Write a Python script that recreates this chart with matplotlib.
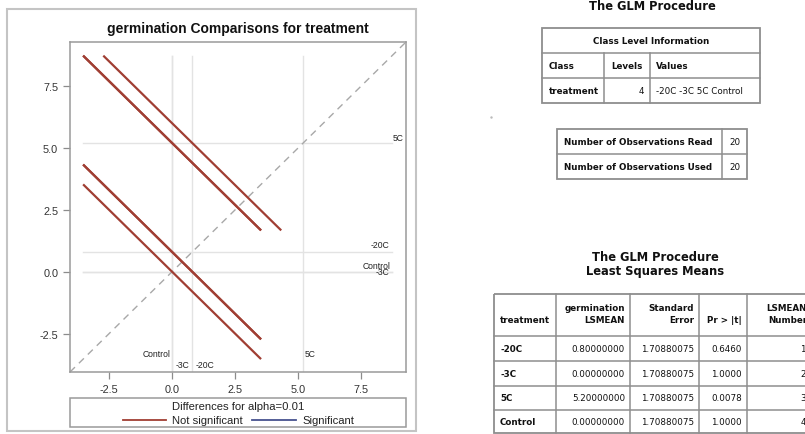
import numpy as np
import matplotlib.pyplot as plt
from matplotlib.patches import Rectangle

plt.rcParams['font.family'] = ['DejaVu Sans']

# PROC GLM output: LS means for germination by treatment
levels = ['-20C', '-3C', '5C', 'Control']
lsmeans = [0.80000000, 0.00000000, 5.20000000, 0.00000000]
stderr = [1.70880075, 1.70880075, 1.70880075, 1.70880075]
prob_t = [0.6460, 1.0000, 0.0078, 1.0000]
lsmean_number = [1, 2, 3, 4]
alpha = 0.01
t_crit = 2.921  # t(1 - alpha/2, 16 df)

n_read = 20
n_used = 20

NS_COLOR = '#a03e33'
SIG_COLOR = '#46528f'
GRID = '#8c8c8c'
W, H = 805, 435

fig = plt.figure(figsize=(W / 100, H / 100), dpi=100)

# overlay in pixel units for the frame, legend and the tables
ov = fig.add_axes([0, 0, 1, 1])
ov.set_xlim(0, W)
ov.set_ylim(H, 0)
ov.axis('off')


def fig_rect(x0, y0, x1, y1):
    return [x0 / W, 1 - y1 / H, (x1 - x0) / W, (y1 - y0) / H]


# ---------------- diffogram ----------------
ov.add_patch(Rectangle((7, 10), 409, 422, fill=False, ec='#c4c4c4', lw=1.5))
ov.text(238, 29, 'germination Comparisons for treatment', ha='center', va='center',
        fontsize=10, fontweight='bold', color='#111111', family='Liberation Sans')

ax = fig.add_axes(fig_rect(70, 43, 406, 373))
lo, hi = -4.05, 9.28
ax.set_xlim(lo, hi)
ax.set_ylim(lo, hi)

segs = []
n = len(levels)
for i in range(n):
    for j in range(i + 1, n):
        x = min(lsmeans[i], lsmeans[j])
        y = max(lsmeans[i], lsmeans[j])
        half = t_crit * np.hypot(stderr[i], stderr[j]) / 2
        sig = abs(lsmeans[i] - lsmeans[j]) > 2 * half
        segs.append((x - half, y + half, x + half, y - half, sig))
ext_lo = min(s[0] for s in segs)
ext_hi = max(s[1] for s in segs)

# reference lines at each LS mean
for m in lsmeans:
    ax.plot([m, m], [lo, ext_hi], color='#e3e3e3', lw=1, zorder=1)
    ax.plot([ext_lo, ext_hi], [m, m], color='#e3e3e3', lw=1, zorder=1)

ax.plot([lo, hi], [lo, hi], color='#a8a8a8', lw=1, ls=(0, (5, 4)), zorder=2)

for x0, y0, x1, y1, sig in segs:
    ax.plot([x0, x1], [y0, y1], color=SIG_COLOR if sig else NS_COLOR, lw=1.6,
            solid_capstyle='butt', zorder=3)

# level labels along the right side and the bottom
lab = dict(fontsize=6.2, color='#222222', family='Liberation Sans')
right_pos = {'5C': (9.2, 0.05), '-20C': (8.6, 0.1), 'Control': (8.65, 0.05), '-3C': (8.6, -0.18)}
for name, m in zip(levels, lsmeans):
    xr, dy = right_pos[name]
    ax.text(xr, m + dy, name, ha='right', va='bottom', **lab)
bottom_pos = {'Control': (-0.08, -3.32, 'right'), '-3C': (0.12, -3.76, 'left'),
              '-20C': (0.12, -3.76, 'left'), '5C': (0.06, -3.32, 'left')}
for name, m in zip(levels, lsmeans):
    dx, yb, ha = bottom_pos[name]
    ax.text(m + dx, yb, name, ha=ha, va='center', **lab)

ax.set_xticks([-2.5, 0, 2.5, 5, 7.5])
ax.set_yticks([-2.5, 0, 2.5, 5, 7.5])
ax.xaxis.set_major_formatter(plt.FormatStrFormatter('%.1f'))
ax.yaxis.set_major_formatter(plt.FormatStrFormatter('%.1f'))
ax.tick_params(colors=GRID, labelcolor='#333333', labelsize=7.8, length=5, width=0.9)
for lbl in ax.get_xticklabels() + ax.get_yticklabels():
    lbl.set_family('Liberation Sans')
for sp in ax.spines.values():
    sp.set_color('#9a9a9a')
    sp.set_linewidth(1.1)

# legend box
ov.add_patch(Rectangle((70, 399), 336, 29, fill=False, ec='#9a9a9a', lw=1.1))
leg = dict(fontsize=8.1, color='#222222', family='Liberation Sans', va='center')
ov.text(238, 407.5, 'Differences for alpha=%.2f' % alpha, ha='center', **leg)
ov.plot([123, 166], [421, 421], color=NS_COLOR, lw=1.3)
ov.text(172, 421, 'Not significant', ha='left', **leg)
ov.plot([252, 296], [421, 421], color=SIG_COLOR, lw=1.3)
ov.text(302, 421, 'Significant', ha='left', **leg)

# ---------------- tables ----------------
TB = '#8e8e8e'
cell_fs = 6.3


def box(x0, y0, x1, y1):
    ov.add_patch(Rectangle((x0, y0), x1 - x0, y1 - y0, fill=False, ec=TB, lw=1.3))


def hline(x0, x1, y):
    ov.plot([x0, x1], [y, y], color=TB, lw=1.1)


def vline(x, y0, y1):
    ov.plot([x, x], [y0, y1], color=TB, lw=1.1)


def cell(x, y, s, ha='left', bold=False):
    ov.text(x, y, s, ha=ha, va='center', fontsize=cell_fs, color='#111111',
            fontweight='bold' if bold else 'normal')


ov.text(652, 6, 'The GLM Procedure', ha='center', va='center', fontsize=8.3,
        fontweight='bold', color='#111111')

# class level information
box(542, 29, 760, 104)
hline(542, 760, 54)
hline(542, 760, 79)
vline(604, 54, 104)
vline(650, 54, 104)
cell(651, 41.5, 'Class Level Information', ha='center', bold=True)
cell(549, 66.5, 'Class', bold=True)
cell(611, 66.5, 'Levels', bold=True)
cell(656, 66.5, 'Values', bold=True)
cell(549, 91.5, 'treatment', bold=True)
cell(644, 91.5, str(len(levels)), ha='right')
cell(656, 91.5, ' '.join(levels))

ov.plot([491], [118], marker='.', ms=1.5, color='#bbbbbb')

# observation counts
box(557, 130, 747, 180)
hline(557, 747, 155)
vline(722, 130, 180)
cell(564, 142.5, 'Number of Observations Read', bold=True)
cell(564, 167.5, 'Number of Observations Used', bold=True)
cell(735, 142.5, str(n_read), ha='center')
cell(735, 167.5, str(n_used), ha='center')

ov.text(655, 265, 'The GLM Procedure\nLeast Squares Means', ha='center', va='center',
        fontsize=8.3, fontweight='bold', color='#111111', linespacing=1.1)

# LS means table
rows_y = [337, 362, 387, 411, 434]
cols_x = [494, 556, 630, 699, 747, 840]
box(cols_x[0], 295, cols_x[-1], rows_y[-1])
for y in rows_y[:-1]:
    hline(cols_x[0], cols_x[-1], y)
for x in cols_x[1:-1]:
    vline(x, 295, rows_y[-1])

hy1, hy2 = 309, 321
cell(500, hy2, 'treatment', bold=True)
cell(cols_x[2] - 5, hy1, 'germination', ha='right', bold=True)
cell(cols_x[2] - 5, hy2, 'LSMEAN', ha='right', bold=True)
cell(cols_x[3] - 5, hy1, 'Standard', ha='right', bold=True)
cell(cols_x[3] - 5, hy2, 'Error', ha='right', bold=True)
cell(cols_x[4] - 5, hy2, 'Pr > |t|', ha='right', bold=True)
cell(807, hy1, 'LSMEAN', ha='right', bold=True)
cell(807, hy2, 'Number', ha='right', bold=True)

for k, name in enumerate(levels):
    yc = (rows_y[k] + rows_y[k + 1]) / 2
    cell(500, yc, name, bold=True)
    cell(cols_x[2] - 5, yc, '%.8f' % lsmeans[k], ha='right')
    cell(cols_x[3] - 5, yc, '%.8f' % stderr[k], ha='right')
    cell(cols_x[4] - 5, yc, '%.4f' % prob_t[k], ha='right')
    cell(806, yc, str(lsmean_number[k]), ha='right')

fig.savefig('out.png', dpi=100)
